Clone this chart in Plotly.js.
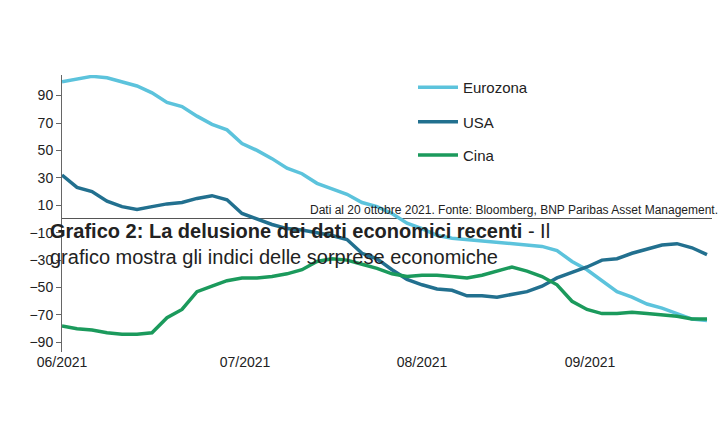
<!DOCTYPE html>
<html>
<head>
<meta charset="utf-8">
<script src="https://cdn.plot.ly/plotly-3.0.1.min.js"></script>
<style>body{margin:0;background:#fff}</style>
</head>
<body>
<div id="myChart" style="width:725px;height:428px"></div>
<script>
// position along time axis (trading-day scale, 0 = start of June 2021)
const days = [0,15,30,45,60,75,90,105,120,135,150,165,180,195,210,225,240,255,270,285,300,315,330,345,360,375,390,405,420,435,450,465,480,495,510,525,540,555,570,585,600,615,630,645];
const eurozona = [100,102,104,103,100,97,92,85,82,75,69,65,55,50,44,37,33,26,22,18,12,9,4,-3,-7,-12,-14,-15,-16,-17,-18,-19,-20,-23,-31,-37,-45,-53,-57,-62,-65,-69,-73,-74];
const usa = [32,23,20,13,9,7,9,11,12,15,17,14,4,0,-4,-7,-8,-10,-12,-15,-25,-29,-37,-44,-48,-51,-52,-56,-56,-57,-55,-53,-49,-43,-39,-35,-30,-29,-25,-22,-19,-18,-21,-26];
const cina = [-78,-80,-81,-83,-84,-84,-83,-72,-66,-53,-49,-45,-43,-43,-42,-40,-37,-31,-29,-30,-33,-36,-40,-42,-41,-41,-42,-43,-41,-38,-35,-38,-42,-48,-60,-66,-69,-69,-68,-69,-70,-71,-73,-73];
const monthPos = [0,183,360,528];
const monthLabels = ['06/2021','07/2021','08/2021','09/2021'];
const yTicks = [-90,-70,-50,-30,-10,10,30,50,70,90];

const fontFam = 'Liberation Sans, Arial, sans-serif';

const traces = [
  {x: days, y: eurozona, name: 'Eurozona', mode: 'lines', line: {color: '#5cc3dc', width: 3.5}, legend: 'legend'},
  {x: days, y: usa, name: 'USA', mode: 'lines', line: {color: '#22708f', width: 3.5}, legend: 'legend2'},
  {x: days, y: cina, name: 'Cina', mode: 'lines', line: {color: '#1b9a5c', width: 3.5}, legend: 'legend3'}
];

const legBase = {font: {size: 15, family: fontFam, color: '#222'}, bgcolor: 'rgba(0,0,0,0)', xanchor: 'left', yanchor: 'middle', itemwidth: 40, x: 0.54};

const layout = {
  width: 725, height: 428,
  margin: {l: 62, r: 13, t: 75, b: 76},
  paper_bgcolor: '#fff', plot_bgcolor: '#fff',
  font: {family: fontFam, size: 14, color: '#222'},
  showlegend: true,
  legend: Object.assign({}, legBase, {y: 0.955}),
  legend2: Object.assign({}, legBase, {y: 0.83}),
  legend3: Object.assign({}, legBase, {y: 0.71}),
  xaxis: {
    range: [0, 650], tickvals: monthPos, ticktext: monthLabels,
    showgrid: false, zeroline: false, showline: false, ticks: '',
    tickfont: {size: 14}
  },
  yaxis: {
    range: [-97, 105], tickvals: yTicks, showgrid: false,
    zeroline: true, zerolinecolor: '#555', zerolinewidth: 1,
    showline: true, linecolor: '#666', ticks: 'outside', ticklen: 5, tickcolor: '#666',
    tickfont: {size: 14}
  },
  annotations: [
    {xref: 'paper', yref: 'container', x: -0.022, y: 0.995, xanchor: 'left', yanchor: 'top', align: 'left', showarrow: false,
     text: '<b>Grafico 2: La delusione dei dati economici recenti</b> - Il<br>grafico mostra gli indici delle sorprese economiche',
     font: {size: 20, color: '#222'}},
    {xref: 'paper', yref: 'container', x: 1.012, y: 0.015, xanchor: 'right', yanchor: 'bottom', showarrow: false,
     text: 'Dati al 20 ottobre 2021. Fonte: Bloomberg, BNP Paribas Asset Management.', font: {size: 12, color: '#222'}}
  ]
};

Plotly.newPlot('myChart', traces, layout, {displayModeBar: false});
</script>
</body>
</html>
